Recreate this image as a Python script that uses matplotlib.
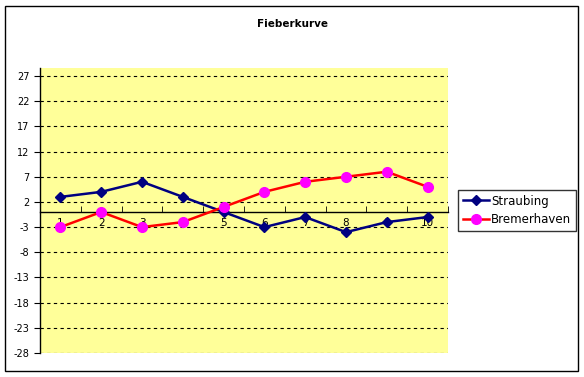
import numpy as np
import matplotlib
matplotlib.use("Agg")
import matplotlib.pyplot as plt
from matplotlib.patches import Rectangle

tage = [1, 2, 3, 4, 5, 6, 7, 8, 9, 10]
straubing = [3, 4, 6, 3, 0, -3, -1, -4, -2, -1]
bremerhaven = [-3, 0, -3, -2, 1, 4, 6, 7, 8, 5]
yticks = list(range(-28, 28, 5))

fig = plt.figure(figsize=(5.84, 3.77), dpi=100)
fig.patches.append(Rectangle((5/584, 1-371/377), 573/584, 365/377, transform=fig.transFigure,
                             fill=False, edgecolor="black", linewidth=1))

ax = fig.add_axes([40/584, 1-353/377, 408/584, 285/377])
ax.set_facecolor("#FFFF99")

ax.plot(tage, straubing, color="#000080", marker="D", markersize=5.5, linewidth=1.8,
        label="Straubing", zorder=5)
ax.plot(tage, bremerhaven, color="#FF0000", marker="o", markersize=7, markerfacecolor="#FF00FF",
        markeredgecolor="#FF00FF", linewidth=1.8, label="Bremerhaven", zorder=5)

ax.set_xlim(0.5, 10.5)
ax.set_ylim(-28, 28.6)
ax.set_yticks(yticks)
ax.set_yticklabels([str(v) for v in yticks])
ax.yaxis.grid(True, color="black", linestyle=(0, (3, 3)), linewidth=0.8)
ax.set_axisbelow(True)

ax.set_xticks(tage)
ax.set_xticklabels([str(t) for t in tage])
ax.set_xticks(np.arange(0.5, 11, 1), minor=True)
ax.tick_params(axis="x", which="major", length=0, pad=4, labelsize=7.5)
ax.tick_params(axis="x", which="minor", length=4, direction="in")
ax.tick_params(axis="y", length=4, width=0.8, labelsize=7)

for s in ["top", "right"]:
    ax.spines[s].set_visible(False)
ax.spines["bottom"].set_position(("data", 0))
ax.spines["bottom"].set_linewidth(1)
ax.spines["left"].set_linewidth(1)

fig.text(292/584, 1-24/377, "Fieberkurve", ha="center", va="center", fontsize=7.5, fontweight="bold")

leg = ax.legend(loc="center left", bbox_to_anchor=((458-40)/408, 0.5), fontsize=8.5, frameon=True,
                fancybox=False, edgecolor="black", borderpad=0.4, handlelength=2.2, labelspacing=0.5,
                borderaxespad=0, handletextpad=0.2)
leg.get_frame().set_linewidth(1)

fig.savefig("out.png", dpi=100)
